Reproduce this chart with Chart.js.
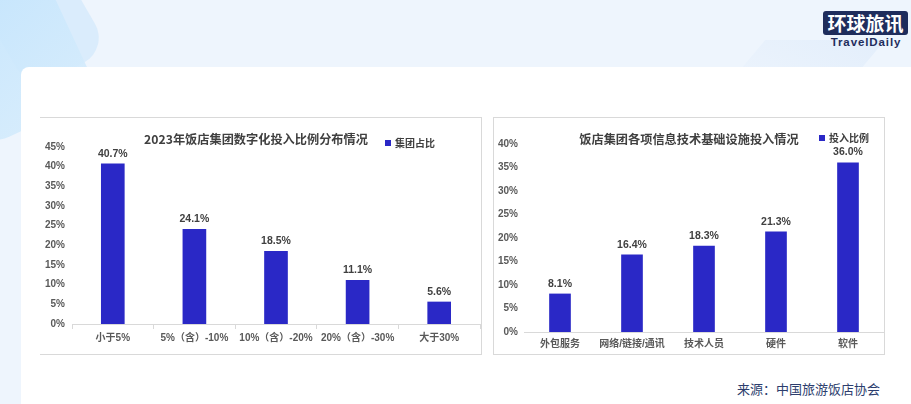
<!DOCTYPE html>
<html>
<head>
<meta charset="utf-8">
<script src="https://cdn.jsdelivr.net/npm/chart.js@4/dist/chart.umd.min.js"></script>
<style>
  body { margin: 0; width: 911px; height: 404px; overflow: hidden; background: #eef5fd; position: relative;
         font-family: 'Liberation Sans', 'Noto Sans CJK SC', sans-serif; }
  .deco1 { position: absolute; left: -60px; top: -40px; width: 130px; height: 170px; border-radius: 30px;
           background: linear-gradient(160deg, #bfe3fd, #d6ecfc); transform: rotate(-25deg); opacity: 0.9; }
  .deco2 { position: absolute; left: -10px; top: -60px; width: 90px; height: 140px; border-radius: 28px;
           background: #d5eafb; transform: rotate(-30deg); opacity: 0.8; }
  .deco3 { position: absolute; left: 740px; top: 40px; width: 120px; height: 60px;
           background: linear-gradient(200deg, #e3eefb, #eef5fd); transform: skewX(-40deg); }
  .card { position: absolute; left: 21px; top: 67px; width: 920px; height: 360px; background: #fff;
          border-radius: 8px 0 0 0; }
  .logo { position: absolute; left: 823px; top: 11px; width: 85px; height: 24px; background: #1f2d5c;
          border-radius: 3px; color: #fff; font: bold 19px 'Noto Sans CJK SC', sans-serif; line-height: 24px;
          text-align: center; letter-spacing: 0px; }
  .logo2 { position: absolute; left: 822px; top: 36px; width: 88px; text-align: center; color: #1f2d5c;
           font: bold 11.5px 'Liberation Sans', sans-serif; letter-spacing: 0.9px; }
  .panel { position: absolute; top: 117px; height: 236px; border: 1px solid #d9d9d9; background: #fff; }
  #p1 { left: 40px; width: 441px; border-left: none; }
  #p2 { left: 493px; width: 390px; }
  .panel canvas { position: absolute; left: 0; top: 0; }
  .title { position: absolute; top: 12px; color: #404040; font: bold 12.2px 'Noto Sans CJK SC', sans-serif;
           white-space: nowrap; transform: translateX(-50%); }
  .legend { position: absolute; top: 12px; color: #404040; font: bold 10px 'Noto Sans CJK SC', sans-serif;
            white-space: nowrap; }
  .legend i { display: inline-block; width: 6px; height: 6px; background: #2a28c6; margin-right: 4px;
              vertical-align: 1px; }
  .source { position: absolute; left: 737px; top: 379px; color: #2c3d6d; font: 13px 'Noto Sans CJK SC', sans-serif; }
</style>
</head>
<body>
<div class="deco2"></div>
<div class="deco1"></div>
<div class="deco3"></div>
<div class="card"></div>
<div class="logo">环球旅讯</div>
<div class="logo2">TravelDaily</div>

<div class="panel" id="p1">
  <canvas id="chart1" width="441" height="236"></canvas>
  <div class="title" style="left:216px;">2023年饭店集团数字化投入比例分布情况</div>
  <div class="legend" style="left:345px;top:17px;"><i></i>集团占比</div>
</div>

<div class="panel" id="p2">
  <canvas id="chart2" width="390" height="236"></canvas>
  <div class="title" style="left:195px;">饭店集团各项信息技术基础设施投入情况</div>
  <div class="legend" style="left:325px;"><i></i>投入比例</div>
</div>

<div class="source">来源：中国旅游饭店协会</div>

<script>
// ===== DATA =====
const leftCategories = ['小于5%', '5%（含）-10%', '10%（含）-20%', '20%（含）-30%', '大于30%'];
const leftValues = [40.7, 24.1, 18.5, 11.1, 5.6];
const leftSeries = '集团占比';

const rightCategories = ['外包服务', '网络/链接/通讯', '技术人员', '硬件', '软件'];
const rightValues = [8.1, 16.4, 18.3, 21.3, 36.0];
const rightSeries = '投入比例';

const BAR_COLOR = '#2a28c6';
const LABEL_FONT = { family: "'Liberation Sans', 'Noto Sans CJK SC', sans-serif", size: 10, weight: 'bold' };

// value labels above bars
const valueLabels = {
  id: 'valueLabels',
  afterDatasetsDraw(chart) {
    const ctx = chart.ctx;
    const meta = chart.getDatasetMeta(0);
    ctx.save();
    ctx.fillStyle = '#404040';
    ctx.font = "bold 10.5px 'Liberation Sans', sans-serif";
    ctx.textAlign = 'center';
    ctx.textBaseline = 'bottom';
    meta.data.forEach((bar, i) => {
      ctx.fillText(chart.data.datasets[0].data[i].toFixed(1) + '%', bar.x, bar.y - 5);
    });
    ctx.restore();
  }
};

function makeChart(id, labels, values, series, opts) {
  return new Chart(document.getElementById(id), {
    type: 'bar',
    data: {
      labels,
      datasets: [{ label: series, data: values, backgroundColor: BAR_COLOR, barThickness: opts.barWidth }],
    },
    options: {
      responsive: false,
      animation: false,
      layout: { padding: { top: opts.top, right: opts.right, left: 0, bottom: 0 } },
      plugins: { legend: { display: false }, tooltip: { enabled: false } },
      scales: {
        x: {
          grid: { display: true, offset: true, drawOnChartArea: false, drawTicks: opts.ticks, tickLength: 5, color: '#d9d9d9' },
          border: { display: true, color: '#d9d9d9' },
          ticks: { color: '#595959', font: LABEL_FONT, padding: opts.ticks ? 3 : 6, maxRotation: 0, autoSkip: false },
          afterFit: s => { s.height = opts.xHeight; },
        },
        y: {
          min: 0, max: opts.max,
          grid: { display: false, drawTicks: false },
          border: { display: false },
          ticks: { stepSize: 5, color: '#595959', font: LABEL_FONT, padding: opts.yPad, callback: v => v + '%' },
          afterFit: s => { s.width = opts.yWidth; },
        },
      },
    },
    plugins: [valueLabels],
  });
}

makeChart('chart1', leftCategories, leftValues, leftSeries,
  { barWidth: 23, top: 29, right: 1, xHeight: 30, yWidth: 32, yPad: 7, max: 45, ticks: true });
makeChart('chart2', rightCategories, rightValues, rightSeries,
  { barWidth: 21, top: 26, right: 0, xHeight: 22, yWidth: 30, yPad: 6, max: 40, ticks: false });
</script>
</body>
</html>
